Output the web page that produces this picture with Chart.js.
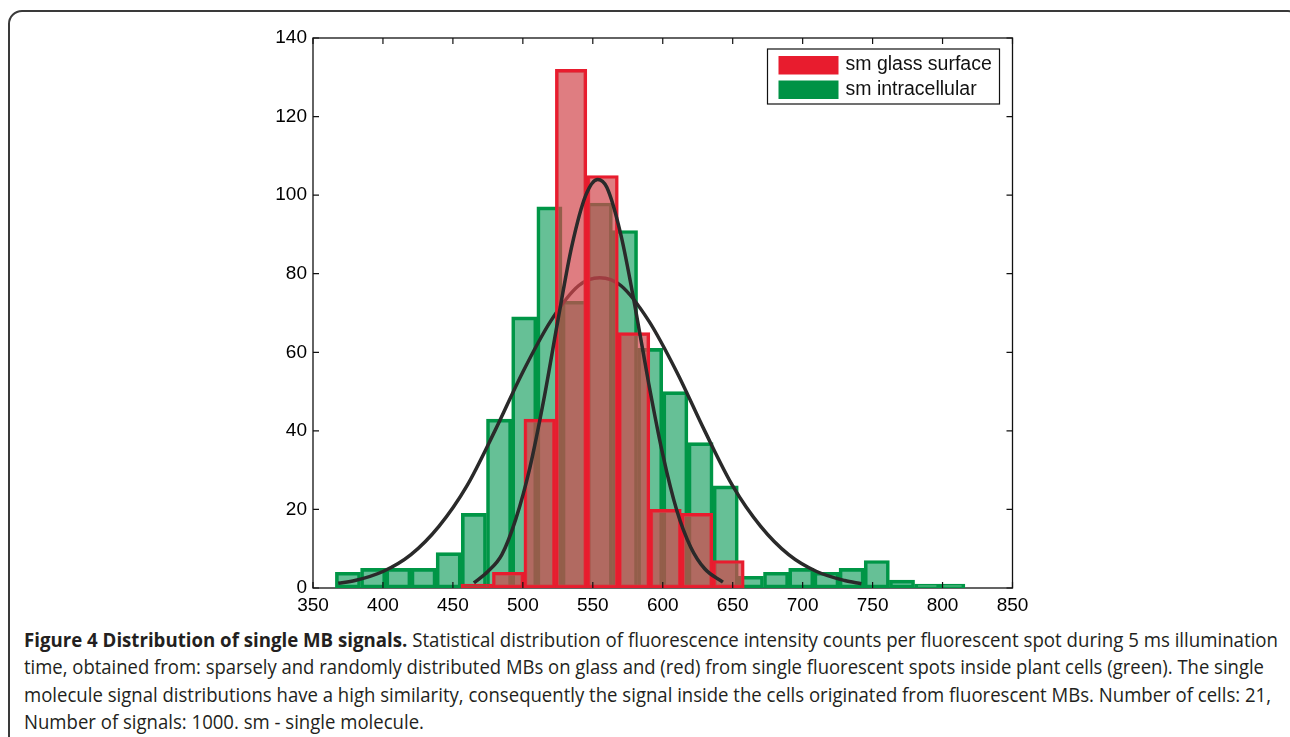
<!DOCTYPE html>
<html lang="en">
<head>
    <meta charset="UTF-8">
    <title>Figure 4</title>
    <script src="https://cdn.jsdelivr.net/npm/chart.js"></script>
    <style>
        body {
            margin: 0;
            background: #fff;
            width: 1290px;
            height: 737px;
            overflow: hidden;
            position: relative;
        }
        /* rounded frame of the figure, runs off the right and bottom edge */
        .frame {
            position: absolute;
            left: 8px;
            top: 10px;
            width: 1290px;
            height: 800px;
            border: 2px solid #3a3a3a;
            border-radius: 14px;
        }
        .chart-box {
            position: absolute;
            left: 0;
            top: 0;
            width: 1290px;
            height: 620px;
        }
        .caption {
            position: absolute;
            left: 24px;
            top: 626px;
            font-family: "Open Sans", "Noto Sans", sans-serif;
            font-size: 20px;
            line-height: 27.3px;
            color: #231f20;
        }
        .caption .ln {
            display: block;
            white-space: nowrap;
            transform-origin: left center;
            width: max-content;
        }
        .caption b { font-weight: 700; }
    </style>
</head>
<body>
    <div class="frame"></div>
    <div class="chart-box">
        <canvas id="histChart" width="1290" height="620"></canvas>
    </div>
    <div class="caption">
        <span class="ln" data-w="1254"><b>Figure 4 Distribution of single MB signals.</b> Statistical distribution of fluorescence intensity counts per fluorescent spot during 5 ms illumination</span>
        <span class="ln" data-w="1240">time, obtained from: sparsely and randomly distributed MBs on glass and (red) from single fluorescent spots inside plant cells (green). The single</span>
        <span class="ln" data-w="1247">molecule signal distributions have a high similarity, consequently the signal inside the cells originated from fluorescent MBs. Number of cells: 21,</span>
        <span class="ln" data-w="400">Number of signals: 1000. sm - single molecule.</span>
    </div>

    <script>
        // histogram bins (bin centres) and counts
        const greenBins = [375, 393, 411, 429, 447, 465, 483, 501, 519, 537, 555, 573, 591,
                           609, 627, 645, 663, 681, 699, 717, 735, 753, 771, 789, 807];
        const greenCounts = [4, 5, 5, 5, 9, 19, 43, 69, 97, 73, 98, 91, 61,
                             50, 37, 26, 3, 4, 5, 4, 5, 7, 2, 1, 1];
        const redBins = [467, 489.5, 512, 534.5, 557, 579.5, 602, 624.5, 647];
        const redCounts = [1, 4, 43, 132, 105, 65, 20, 19, 7];

        // fitted curves
        const narrowFitX = [465, 475, 485, 495, 505, 515, 525, 535, 545, 553.5, 560, 570, 580, 590, 600, 610, 620, 630, 643];
        const narrowFitY = [1.3, 4.2, 8.5, 17.6, 30.6, 48, 68, 87, 100, 104, 102, 90, 72, 52, 34, 19.8, 10.4, 4.9, 1.5];
        const wideFitX = [368, 380, 400, 420, 440, 460, 480, 500, 520, 540, 555, 570, 590, 610, 630, 650, 670, 690, 710, 730, 742];
        const wideFitY = [1.2, 1.9, 4.2, 8.5, 15.7, 26, 40, 55, 68, 77, 79, 77, 68, 55, 40, 26, 15.7, 8.5, 4.2, 1.9, 1.1];

        const seriesLabels = ['sm glass surface', 'sm intracellular'];

        const toPoints = (xs, ys) => xs.map((x, i) => ({ x: x, y: ys[i] }));

        // box round the plot with ticks pointing inwards
        const framePlugin = {
            id: 'framePlugin',
            beforeDatasetsDraw(chart) {
                const { ctx, chartArea: a } = chart;
                ctx.save();
                ctx.strokeStyle = '#111';
                ctx.lineWidth = 1.3;
                ctx.strokeRect(a.left, a.top, a.width, a.height);
                ctx.restore();
            },
            afterDatasetsDraw(chart) {
                const { ctx, chartArea: a, scales } = chart;
                const len = 6;
                ctx.save();
                ctx.strokeStyle = '#111';
                ctx.lineWidth = 1.2;
                ctx.beginPath();
                scales.x.ticks.forEach(t => {
                    const px = scales.x.getPixelForValue(t.value);
                    ctx.moveTo(px, a.bottom); ctx.lineTo(px, a.bottom - len);
                    ctx.moveTo(px, a.top); ctx.lineTo(px, a.top + len);
                });
                scales.y.ticks.forEach(t => {
                    const py = scales.y.getPixelForValue(t.value);
                    ctx.moveTo(a.left, py); ctx.lineTo(a.left + len, py);
                    ctx.moveTo(a.right, py); ctx.lineTo(a.right - len, py);
                });
                ctx.stroke();
                ctx.restore();
            }
        };

        // legend box in the top right corner of the plot
        const legendBox = {
            id: 'legendBox',
            afterDraw(chart) {
                const { ctx, chartArea: a } = chart;
                const bars = chart.data.datasets.filter(d => d.type !== 'line');
                const left = a.right - 245, top = a.top + 11;
                ctx.save();
                ctx.fillStyle = '#fff';
                ctx.fillRect(left, top, 232, 55);
                ctx.strokeStyle = '#111';
                ctx.lineWidth = 1.2;
                ctx.strokeRect(left, top, 232, 55);
                ctx.font = '19.5px "Liberation Sans", Arial, sans-serif';
                ctx.textBaseline = 'middle';
                bars.forEach((d, i) => {
                    const y = top + 16 + i * 24.5;
                    ctx.fillStyle = d.legendColor;
                    ctx.fillRect(left + 11, y - 9, 60, 18.5);
                    ctx.fillStyle = '#111';
                    ctx.fillText(d.label, left + 78, y);
                });
                ctx.restore();
            }
        };

        Chart.defaults.font.family = '"Liberation Sans", Arial, sans-serif';
        Chart.defaults.font.size = 18.5;
        Chart.defaults.color = '#000';

        const ctx = document.getElementById('histChart').getContext('2d');
        const histChart = new Chart(ctx, {
            type: 'bar',
            data: {
                datasets: [
                    {
                        type: 'line',
                        label: 'fit glass',
                        data: toPoints(narrowFitX, narrowFitY),
                        xAxisID: 'x',
                        order: 0,
                        borderColor: '#2a2a2a',
                        borderWidth: 3.5,
                        pointRadius: 0,
                        cubicInterpolationMode: 'monotone',
                        fill: false
                    },
                    {
                        label: seriesLabels[0],
                        data: toPoints(redBins, redCounts),
                        xAxisID: 'x2',
                        order: 1,
                        backgroundColor: 'rgba(210, 70, 75, 0.7)',
                        borderColor: '#e81c2e',
                        legendColor: '#e81c2e',
                        borderWidth: 3,
                        borderSkipped: false
                    },
                    {
                        type: 'line',
                        label: 'fit intracellular',
                        data: toPoints(wideFitX, wideFitY),
                        xAxisID: 'x',
                        order: 2,
                        borderColor: '#2a2a2a',
                        borderWidth: 3.5,
                        pointRadius: 0,
                        cubicInterpolationMode: 'monotone',
                        fill: false
                    },
                    {
                        label: seriesLabels[1],
                        data: toPoints(greenBins, greenCounts),
                        xAxisID: 'x',
                        order: 3,
                        backgroundColor: 'rgba(0, 150, 80, 0.6)',
                        borderColor: '#009646',
                        legendColor: '#009245',
                        borderWidth: 3,
                        borderSkipped: false
                    }
                ]
            },
            options: {
                responsive: false,
                animation: false,
                grouped: false,
                barPercentage: 1,
                categoryPercentage: 1,
                layout: { padding: { left: 0, right: 277.5, top: 38, bottom: 0 } },
                plugins: {
                    legend: { display: false },
                    tooltip: { enabled: false }
                },
                scales: {
                    x: {
                        type: 'linear',
                        offset: false,
                        min: 350,
                        max: 850,
                        ticks: { stepSize: 50, padding: 6, font: { size: 19 } },
                        grid: { display: false, drawTicks: false, offset: false },
                        border: { display: false },
                        afterFit: s => { s.height = 32; }
                    },
                    x2: {
                        type: 'linear',
                        display: false,
                        offset: false,
                        min: 350,
                        max: 850,
                        ticks: { stepSize: 50 },
                        grid: { offset: false }
                    },
                    y: {
                        min: 0,
                        max: 140,
                        ticks: { stepSize: 20, padding: 6, font: { size: 19 } },
                        grid: { display: false, drawTicks: false },
                        border: { display: false },
                        afterFit: s => { s.width = 313; }
                    }
                }
            },
            plugins: [framePlugin, legendBox]
        });

        // squeeze each caption line to the width it has in the figure
        document.querySelectorAll('.caption .ln').forEach(el => {
            const target = parseFloat(el.dataset.w);
            const w = el.getBoundingClientRect().width;
            el.style.transform = 'scaleX(' + (target / w) + ')';
        });
    </script>
</body>
</html>
